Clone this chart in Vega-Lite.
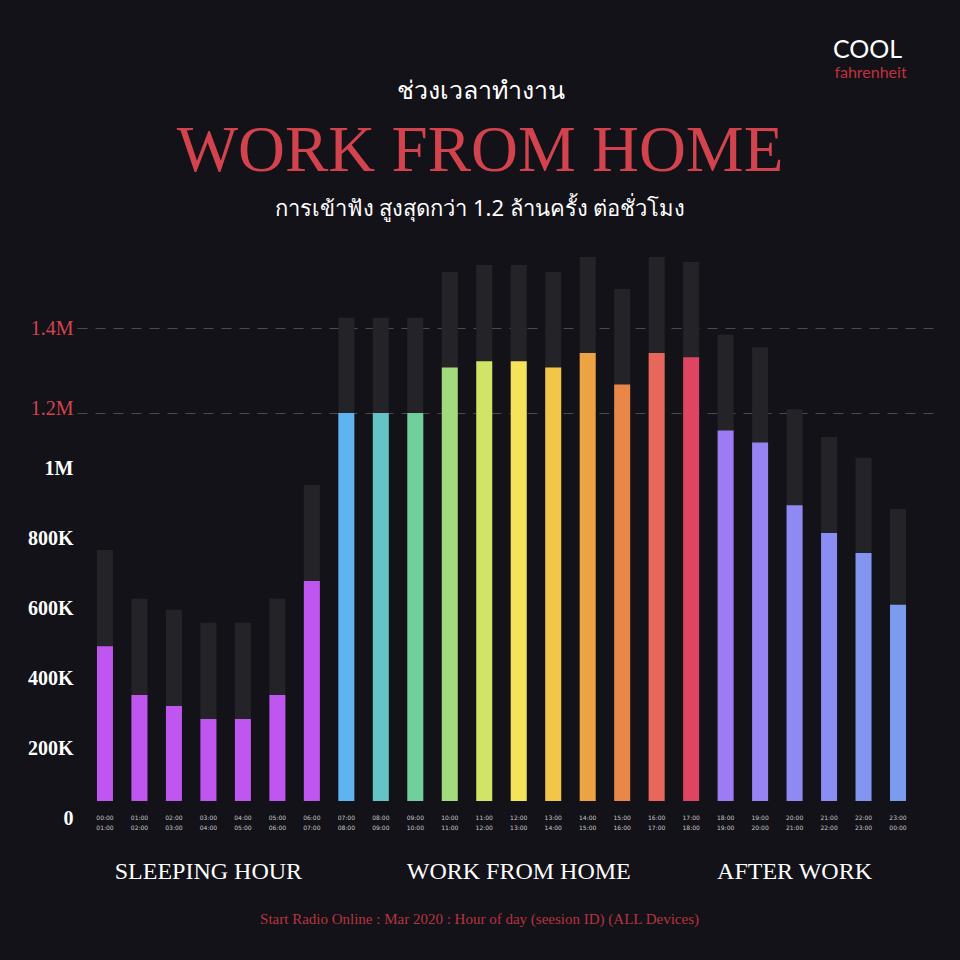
{
  "$schema": "https://vega.github.io/schema/vega-lite/v6.json",
  "autosize": {"type": "none"},
  "padding": {"left": 77, "top": 240, "right": 25, "bottom": 159},
  "width": 858,
  "height": 561,
  "background": "#131218",
  "config": {"view": {"stroke": null}},
  "title": {
    "text": "WORK FROM HOME",
    "subtitle": "การเข้าฟัง สูงสุดกว่า 1.2 ล้านครั้ง ต่อชั่วโมง",
    "font": "Liberation Serif",
    "fontSize": 65,
    "fontWeight": "normal",
    "color": "#d3434e",
    "subtitleFont": "Noto Sans",
    "subtitleFontSize": 22,
    "subtitleColor": "#ffffff",
    "subtitlePadding": 14,
    "anchor": "middle",
    "frame": "group",
    "dx": -26,
    "offset": -184
  },
  "datasets": {
    "hours": [
      {"hour": "00:00-01:00", "sessions": 465000, "ceiling": 754000},
      {"hour": "01:00-02:00", "sessions": 318000, "ceiling": 607000},
      {"hour": "02:00-03:00", "sessions": 285000, "ceiling": 574000},
      {"hour": "03:00-04:00", "sessions": 246000, "ceiling": 535000},
      {"hour": "04:00-05:00", "sessions": 246000, "ceiling": 535000},
      {"hour": "05:00-06:00", "sessions": 318000, "ceiling": 607000},
      {"hour": "06:00-07:00", "sessions": 661000, "ceiling": 949000},
      {"hour": "07:00-08:00", "sessions": 1200000, "ceiling": 1424000},
      {"hour": "08:00-09:00", "sessions": 1200000, "ceiling": 1424000},
      {"hour": "09:00-10:00", "sessions": 1200000, "ceiling": 1424000},
      {"hour": "10:00-11:00", "sessions": 1307000, "ceiling": 1532000},
      {"hour": "11:00-12:00", "sessions": 1322000, "ceiling": 1548000},
      {"hour": "12:00-13:00", "sessions": 1322000, "ceiling": 1548000},
      {"hour": "13:00-14:00", "sessions": 1307000, "ceiling": 1532000},
      {"hour": "14:00-15:00", "sessions": 1341000, "ceiling": 1567000},
      {"hour": "15:00-16:00", "sessions": 1267000, "ceiling": 1492000},
      {"hour": "16:00-17:00", "sessions": 1341000, "ceiling": 1567000},
      {"hour": "17:00-18:00", "sessions": 1331000, "ceiling": 1555000},
      {"hour": "18:00-19:00", "sessions": 1136000, "ceiling": 1384000},
      {"hour": "19:00-20:00", "sessions": 1093000, "ceiling": 1355000},
      {"hour": "20:00-21:00", "sessions": 888000, "ceiling": 1209000},
      {"hour": "21:00-22:00", "sessions": 805000, "ceiling": 1113000},
      {"hour": "22:00-23:00", "sessions": 745000, "ceiling": 1037000},
      {"hour": "23:00-00:00", "sessions": 589000, "ceiling": 877000}
    ],
    "groups": [
      {"group": "SLEEPING HOUR", "hour": "03:00-04:00"},
      {"group": "WORK FROM HOME", "hour": "12:00-13:00"},
      {"group": "AFTER WORK", "hour": "20:00-21:00"}
    ]
  },
  "resolve": {"axis": {"x": "independent", "y": "independent"}},
  "layer": [
    {
      "data": {"name": "hours"},
      "mark": {"type": "bar", "color": "#242428"},
      "encoding": {
        "x": {
          "field": "hour",
          "type": "nominal",
          "sort": null,
          "scale": {
            "domain": ["00:00-01:00","01:00-02:00","02:00-03:00","03:00-04:00","04:00-05:00","05:00-06:00","06:00-07:00","07:00-08:00","08:00-09:00","09:00-10:00","10:00-11:00","11:00-12:00","12:00-13:00","13:00-14:00","14:00-15:00","15:00-16:00","16:00-17:00","17:00-18:00","18:00-19:00","19:00-20:00","20:00-21:00","21:00-22:00","22:00-23:00","23:00-00:00"],
            "paddingInner": 0.536,
            "paddingOuter": 0.71,
            "align": 0.408
          },
          "axis": {
            "orient": "bottom",
            "labelExpr": "split(datum.label, '-')",
            "labelAngle": 0,
            "labelFont": "DejaVu Sans",
            "labelFontSize": 6,
            "labelLineHeight": 10,
            "labelColor": "#c8c8c8",
            "labelPadding": 13,
            "ticks": false,
            "domain": false,
            "title": "Start Radio Online : Mar 2020 : Hour of day (seesion ID) (ALL Devices)",
            "titleFont": "Liberation Serif",
            "titleFontSize": 15,
            "titleFontWeight": "normal",
            "titleColor": "#b8343f",
            "titleX": 402,
            "titleY": 117,
            "titleAlign": "center",
            "titleBaseline": "middle"
          }
        },
        "y": {
          "field": "ceiling",
          "type": "quantitative",
          "scale": {
            "domain": [0, 1000000, 1200000, 1400000, 1607000],
            "range": [561, 228, 173, 88, 0],
            "nice": false,
            "zero": false
          },
          "axis": {
            "values": [0, 200000, 400000, 600000, 800000, 1000000, 1200000, 1400000],
            "labelExpr": "datum.value == 0 ? '0' : (datum.value < 1000000 ? (datum.value / 1000) + 'K' : (datum.value / 1000000) + 'M')",
            "labelFont": "Liberation Serif",
            "labelFontSize": 20,
            "labelFontWeight": {"condition": {"test": "datum.value >= 1200000", "value": "normal"}, "value": "bold"},
            "labelColor": {"condition": {"test": "datum.value >= 1200000", "value": "#d3434e"}, "value": "#ffffff"},
            "labelOffset": {"expr": "datum.value <= 1000000 ? (1000000 - datum.value) * 0.000017 : (datum.value == 1200000 ? -5 : 0)"},
            "labelPadding": 4,
            "labelOverlap": false,
            "ticks": false,
            "domain": false,
            "grid": true,
            "gridColor": "#4a4a50",
            "gridDash": [10, 8],
            "gridWidth": 1,
            "gridOpacity": {"condition": {"test": "datum.value >= 1200000", "value": 1}, "value": 0},
            "title": "ช่วงเวลาทำงาน",
            "titleAngle": 0,
            "titleX": 403,
            "titleY": -150,
            "titleAlign": "center",
            "titleBaseline": "middle",
            "titleFont": "Noto Sans",
            "titleFontSize": 25,
            "titleFontWeight": "normal",
            "titleColor": "#ffffff"
          }
        }
      }
    },
    {
      "data": {"name": "hours"},
      "mark": {"type": "bar"},
      "encoding": {
        "x": {
          "field": "hour",
          "type": "nominal",
          "sort": null,
          "axis": {
            "orient": "top",
            "labels": false,
            "ticks": false,
            "domain": false,
            "grid": false,
            "title": "fahrenheit",
            "titleFont": "Lato",
            "titleFontSize": 16,
            "titleFontWeight": "normal",
            "titleColor": "#c0313c",
            "titleX": 793,
            "titleY": -163,
            "titleAlign": "center",
            "titleBaseline": "alphabetic"
          }
        },
        "y": {
          "field": "sessions",
          "type": "quantitative",
          "axis": {
            "orient": "right",
            "labels": false,
            "ticks": false,
            "domain": false,
            "grid": false,
            "title": "COOL",
            "titleAngle": 0,
            "titleX": -68,
            "titleY": -183,
            "titleAlign": "center",
            "titleBaseline": "alphabetic",
            "titleFont": "Lato",
            "titleFontSize": 25,
            "titleFontWeight": "normal",
            "titleColor": "#ffffff"
          }
        },
        "color": {
          "field": "hour",
          "type": "nominal",
          "legend": null,
          "scale": {
            "domain": ["00:00-01:00","01:00-02:00","02:00-03:00","03:00-04:00","04:00-05:00","05:00-06:00","06:00-07:00","07:00-08:00","08:00-09:00","09:00-10:00","10:00-11:00","11:00-12:00","12:00-13:00","13:00-14:00","14:00-15:00","15:00-16:00","16:00-17:00","17:00-18:00","18:00-19:00","19:00-20:00","20:00-21:00","21:00-22:00","22:00-23:00","23:00-00:00"],
            "range": ["#bf56ef","#bf56ef","#bf56ef","#bf56ef","#bf56ef","#bf56ef","#bf56ef","#5db4f0","#64c3c6","#70cf9a","#a3da7c","#d2e466","#f5e45a","#f2c54b","#eca343","#e88747","#e8675b","#df4461","#9c7bf4","#9784f2","#8e89f3","#8a8df3","#8394f1","#7b9bef"]
          }
        }
      }
    },
    {
      "data": {"name": "groups"},
      "mark": {"type": "text", "font": "Liberation Serif", "fontSize": 24, "color": "#ffffff", "align": "center", "baseline": "middle"},
      "encoding": {
        "x": {"field": "hour", "type": "nominal", "axis": null},
        "y": {"datum": -213000, "type": "quantitative", "axis": null},
        "text": {"field": "group"}
      }
    }
  ]
}
